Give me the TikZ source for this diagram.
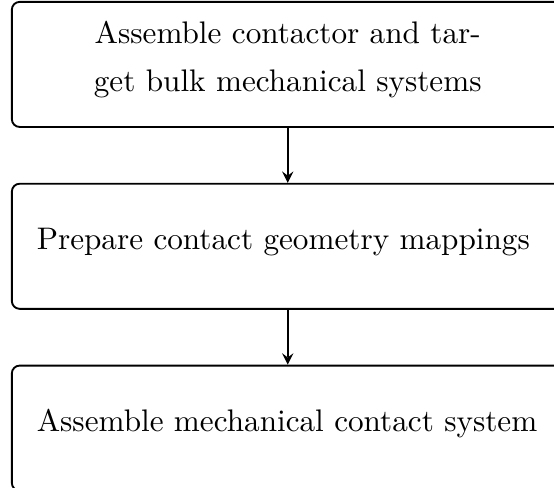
\documentclass[tikz,border=0pt]{standalone}
\usepackage{tikz}
\usetikzlibrary{positioning}

\begin{document}
\begin{tikzpicture}[node distance=17.6pt, semithick,
    stage/.style={rectangle, draw, rounded corners=2.5pt, text width=160.9pt, inner xsep=8pt, minimum height=40.1pt, text depth=4.8pt}]
    \node[stage, align=center, text depth=20.3pt] (bulk) at (0,0) {Assemble contactor and tar-\\[3.2pt]get bulk mechanical systems};
    \node[stage, align=left, below=of bulk] (maps) {Prepare contact geometry mappings};
    \node[stage, align=left, below=of maps] (contact) {Assemble mechanical contact system};

    \draw[-stealth] (bulk) -- (maps);
    \draw[-stealth] (maps) -- (contact);

    \pgfresetboundingbox
    \path[use as bounding box] ([xshift=-3.5pt, yshift=0.3pt]bulk.north west) rectangle ++(177.6pt,-156.4pt);
\end{tikzpicture}
\end{document}
